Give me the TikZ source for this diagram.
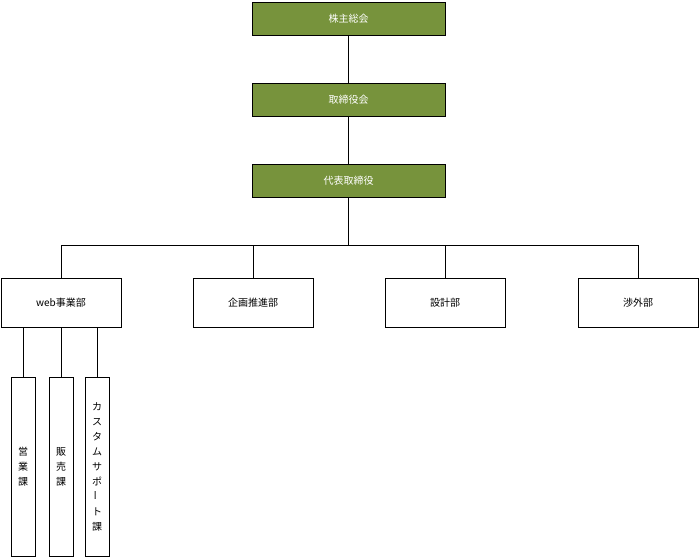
\documentclass[tikz,border=0pt]{standalone}
\usepackage{fontspec}
\setmainfont{Noto Sans CJK JP}
\usetikzlibrary{positioning}
\definecolor{olive}{HTML}{77933C}
\tikzset{
  topbox/.style={draw=black, fill=olive, text=white, minimum width=193pt, minimum height=33pt, inner sep=0pt, font=\fontsize{10}{12}\selectfont},
  deptbox/.style={draw=black, fill=white, minimum width=120pt, minimum height=49pt, inner sep=0pt, font=\fontsize{10}{12}\selectfont},
  secbox/.style={draw=black, fill=white, minimum width=24pt, minimum height=179pt, inner sep=0pt, align=center, font=\fontsize{10}{15}\selectfont},
}
\begin{document}
\begin{tikzpicture}[x=1pt,y=-1pt]
\useasboundingbox (0,0) rectangle (699,557);
% management
\node[topbox] (kabu) at (348.5,18.5) {株主総会};
\node[topbox] (tori) at (348.5,99.5) {取締役会};
\node[topbox] (dai) at (348.5,180.5) {代表取締役};
\draw (kabu) -- (tori);
\draw (tori) -- (dai);
% departments
\node[deptbox] (web) at (61,302.5) {web事業部};
\node[deptbox] (kikaku) at (253,302.5) {企画推進部};
\node[deptbox] (sekkei) at (445,302.5) {設計部};
\node[deptbox] (shogai) at (638,302.5) {渉外部};
\coordinate (bus) at (348.5,245);
\draw (dai) -- (bus);
\foreach \d in {web,kikaku,sekkei,shogai}
  \draw (\d.north) |- (bus);
% sections
\node[secbox] (eigyo) at (23,466.5) {営\\業\\課};
\node[secbox] (hanbai) at (61,466.5) {販\\売\\課};
\node[secbox] (custom) at (97,466.5) {カ\\ス\\タ\\ム\\サ\\ポ\\\rotatebox{90}{ー}\\ト\\課};
\foreach \s in {eigyo,hanbai,custom}
  \draw (\s.north) -- (\s.north |- web.south);
\end{tikzpicture}
\end{document}
